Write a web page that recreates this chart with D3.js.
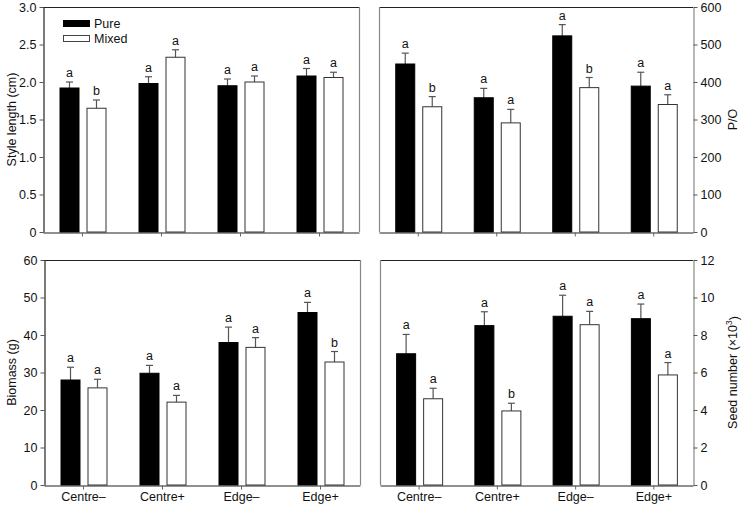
<!DOCTYPE html>
<html>
<head>
<meta charset="utf-8">
<script src="https://cdn.jsdelivr.net/npm/d3@7"></script>
<style>
  html, body { margin: 0; padding: 0; background: #fff; }
  svg { display: block; font-family: "Liberation Sans", Arial, sans-serif; }
</style>
</head>
<body>
<svg id="chart" width="742" height="506"></svg>
<script>
// ---------- data ----------
const categories = ["Centre\u2013", "Centre+", "Edge\u2013", "Edge+"];
const series = ["Pure", "Mixed"];

const styleLengthPure = [1.92, 1.98, 1.95, 2.08];
const styleLengthMixed = [1.65, 2.33, 2.00, 2.06];
const styleLengthErrPure = [0.08, 0.09, 0.09, 0.10];
const styleLengthErrMixed = [0.11, 0.10, 0.08, 0.07];
const styleLengthLetters = [["a", "b"], ["a", "a"], ["a", "a"], ["a", "a"]];
const styleLengthTicks = ["0", "0.5", "1.0", "1.5", "2.0", "2.5", "3.0"];

const poPure = [448, 358, 523, 389];
const poMixed = [334, 291, 385, 340];
const poErrPure = [29, 25, 30, 37];
const poErrMixed = [27, 36, 27, 26];
const poLetters = [["a", "b"], ["a", "a"], ["a", "b"], ["a", "a"]];
const poTicks = [0, 100, 200, 300, 400, 500, 600];

const biomassPure = [28.0, 29.8, 38.0, 46.0];
const biomassMixed = [25.9, 22.1, 36.7, 32.8];
const biomassErrPure = [3.4, 2.1, 4.1, 2.7];
const biomassErrMixed = [2.3, 1.8, 2.6, 2.8];
const biomassLetters = [["a", "a"], ["a", "a"], ["a", "a"], ["a", "b"]];
const biomassTicks = [0, 10, 20, 30, 40, 50, 60];

const seedPure = [7.0, 8.5, 9.0, 8.87];
const seedMixed = [4.6, 3.95, 8.55, 5.87];
const seedErrPure = [1.03, 0.74, 1.12, 0.78];
const seedErrMixed = [0.56, 0.41, 0.71, 0.66];
const seedLetters = [["a", "a"], ["a", "b"], ["a", "a"], ["a", "a"]];
const seedTicks = [0, 2, 4, 6, 8, 10, 12];

// ---------- drawing ----------
const svg = d3.select("#chart");
const AXIS = "#222";
const SIDE = "#888";
const ERR = "#555";

function panel(opts) {
  const { x0, x1, y0, y1, yMax, ticks, tickFmt, pure, mixed, errPure, errMixed, letters, side, title, showCats, superscript } = opts;
  const g = svg.append("g");
  const x = d3.scaleBand().domain(categories).range([x0, x1]).padding(0);
  const bw = x.bandwidth();
  const xs = d3.scaleBand().domain(series).range([bw / 2 - 23 + 0.5, bw / 2 + 23 + 0.5]).paddingInner(8 / 27).paddingOuter(0);
  const y = d3.scaleLinear().domain([0, yMax]).range([y1, y0]);

  const rows = [];
  categories.forEach((c, i) => {
    rows.push({ cat: c, s: "Pure", v: pure[i], e: errPure[i], l: letters[i][0] });
    rows.push({ cat: c, s: "Mixed", v: mixed[i], e: errMixed[i], l: letters[i][1] });
  });

  // frame: top and opposite side
  g.append("line").attr("x1", x0).attr("x2", x1).attr("y1", y0 + 0.5).attr("y2", y0 + 0.5).attr("stroke", AXIS).attr("stroke-width", 1);
  const otherX = side === "left" ? x1 : x0;
  g.append("line").attr("x1", otherX + 0.5).attr("x2", otherX + 0.5).attr("y1", y0).attr("y2", y1).attr("stroke", SIDE).attr("stroke-width", 1.2);

  // error bars
  rows.forEach(d => {
    const cx = x(d.cat) + xs(d.s) + xs.bandwidth() / 2;
    const top = y(d.v + d.e);
    g.append("line").attr("x1", cx).attr("x2", cx).attr("y1", y(d.v)).attr("y2", top).attr("stroke", ERR).attr("stroke-width", 1.2);
    g.append("line").attr("x1", cx - 3.5).attr("x2", cx + 3.5).attr("y1", top).attr("y2", top).attr("stroke", ERR).attr("stroke-width", 1.2);
    g.append("text").attr("x", cx).attr("y", top - 5).attr("text-anchor", "middle")
      .attr("font-size", 12.5).attr("fill", "#111").text(d.l);
  });

  // bars
  g.selectAll("rect.bar").data(rows).enter().append("rect")
    .attr("class", "bar")
    .attr("x", d => x(d.cat) + xs(d.s))
    .attr("y", d => y(d.v))
    .attr("width", xs.bandwidth())
    .attr("height", d => y(0) - y(d.v))
    .attr("fill", d => d.s === "Pure" ? "#000" : "#fff")
    .attr("stroke", d => d.s === "Pure" ? "#000" : "#333")
    .attr("stroke-width", 1);

  // x axis
  const xa = g.append("g").attr("transform", `translate(0,${y1 + 0.5})`)
    .call(d3.axisBottom(x).tickSize(4).tickSizeOuter(0).tickPadding(3).tickFormat(showCats ? (d => d) : (() => "")));
  xa.select(".domain").attr("stroke", AXIS).attr("stroke-width", 1.2);
  xa.selectAll(".tick line").attr("stroke", "#666");
  xa.selectAll(".tick text").attr("font-size", 12.5).attr("fill", "#111")
    .attr("font-family", "Liberation Sans, Arial, sans-serif");

  // y axis
  const axisFn = side === "left" ? d3.axisLeft(y) : d3.axisRight(y);
  const ax = side === "left" ? x0 : x1;
  const ya = g.append("g").attr("transform", `translate(${ax + 0.5},0)`)
    .call(axisFn.tickValues(ticks.map(Number)).tickSize(4).tickSizeOuter(0).tickFormat(tickFmt).tickPadding(3));
  ya.select(".domain").attr("stroke", side === "left" ? AXIS : SIDE).attr("stroke-width", 1.2);
  ya.selectAll(".tick line").attr("stroke", "#555");
  ya.selectAll(".tick text").attr("font-size", 12.5).attr("fill", "#111")
    .attr("font-family", "Liberation Sans, Arial, sans-serif");

  // title
  const tx = side === "left" ? 12 : 733;
  const ty = (y0 + y1) / 2;
  const t = g.append("text").attr("transform", `translate(${tx},${ty}) rotate(-90)`)
    .attr("text-anchor", "middle").attr("dy", "0.35em")
    .attr("font-size", 12.5).attr("fill", "#111");
  if (superscript) {
    t.append("tspan").text(title);
    t.append("tspan").attr("font-size", 8.5).attr("dy", "-0.6em").text(superscript);
    t.append("tspan").attr("dy", "0.45em").text(")");
  } else {
    t.text(title);
  }
  return { x, y, xs, g };
}

const styleFmt = (d) => styleLengthTicks[styleLengthTicks.map(Number).indexOf(d)];

panel({ x0: 43, x1: 359, y0: 7, y1: 232, yMax: 3, ticks: styleLengthTicks, tickFmt: styleFmt,
  pure: styleLengthPure, mixed: styleLengthMixed, errPure: styleLengthErrPure, errMixed: styleLengthErrMixed,
  letters: styleLengthLetters, side: "left", title: "Style length (cm)", showCats: false });

panel({ x0: 379, x1: 693, y0: 7, y1: 232, yMax: 600, ticks: poTicks, tickFmt: d3.format("d"),
  pure: poPure, mixed: poMixed, errPure: poErrPure, errMixed: poErrMixed,
  letters: poLetters, side: "right", title: "P/O", showCats: false });

panel({ x0: 44, x1: 360, y0: 260, y1: 485, yMax: 60, ticks: biomassTicks, tickFmt: d3.format("d"),
  pure: biomassPure, mixed: biomassMixed, errPure: biomassErrPure, errMixed: biomassErrMixed,
  letters: biomassLetters, side: "left", title: "Biomass (g)", showCats: true });

panel({ x0: 380, x1: 693, y0: 260, y1: 485, yMax: 12, ticks: seedTicks, tickFmt: d3.format("d"),
  pure: seedPure, mixed: seedMixed, errPure: seedErrPure, errMixed: seedErrMixed,
  letters: seedLetters, side: "right", title: "Seed number (\u00d710", superscript: "3", showCats: true });

// legend
const legend = svg.append("g").attr("transform", "translate(63,20)");
series.forEach((s, i) => {
  legend.append("rect").attr("x", 0.5).attr("y", i * 15 + 0.5).attr("width", 26).attr("height", 6)
    .attr("fill", s === "Pure" ? "#000" : "#fff").attr("stroke", s === "Pure" ? "#000" : "#444").attr("stroke-width", 1);
  legend.append("text").attr("x", 31).attr("y", i * 15 + 8).attr("font-size", 12.5).attr("fill", "#111").text(s);
});
</script>
</body>
</html>
